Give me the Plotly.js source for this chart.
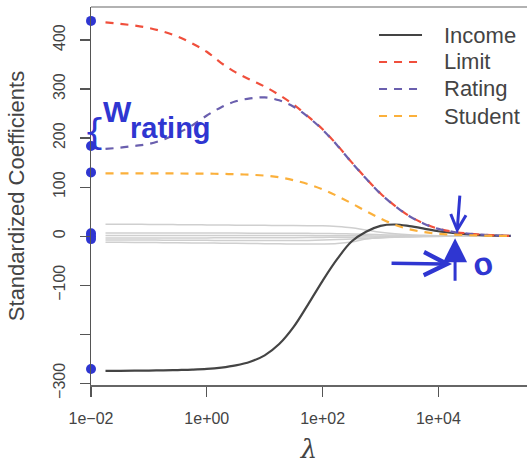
<!DOCTYPE html>
<html>
<head>
<meta charset="utf-8">
<script src="https://cdn.plot.ly/plotly-3.0.1.min.js"></script>
<style>
html,body{margin:0;padding:0;background:#fff;overflow:hidden;}
#chart{width:527px;height:464px;}
</style>
</head>
<body>
<div id="chart"></div>
<script>
// lambda grid (tuning parameter values)
var lambda = [0.0178, 0.0316, 0.0562, 0.1, 0.178, 0.316, 0.562, 1, 1.78, 3.16, 5.62, 10,
              17.8, 31.6, 56.2, 100, 178, 316, 562, 1000, 1780, 3160, 5620, 10000,
              17800, 31600, 56200, 100000, 178000];

// standardized ridge coefficients
var income  = [-274.5, -274.5, -274.3, -274, -273.6, -273, -272.2, -270.8, -268, -263.5, -256, -243,
               -220, -185, -139, -91, -47, -11, 9, 21, 23.8, 20.5, 15.5, 10,
               6.5, 4, 2.3, 1.2, 0.5];
var limit   = [436, 433, 429.5, 424.5, 417, 407, 393, 376, 353, 334, 319, 305,
               288, 268, 244, 218, 186, 151, 118, 87, 62, 41, 26, 15,
               9, 5.5, 3, 1.5, 0.5];
var rating  = [178, 180.5, 184, 188, 197, 210, 226, 246, 263, 275, 281, 283,
               277, 264, 243, 217, 185.5, 150.5, 117.5, 86.5, 61.5, 40.5, 25.5, 14.8,
               8.9, 5.4, 3, 1.5, 0.5];
var student = [128, 128, 128, 128, 127.9, 127.8, 127.7, 127.5, 127, 126.3, 125.3, 123.5,
               120, 114, 106, 95.5, 82, 67, 51, 36, 23, 14, 8.5, 5,
               3.2, 2, 1.2, 0.6, 0.3];
var other1  = [24.5, 24.5, 24.3, 24, 23.8, 23.5, 23.2, 23, 22.8, 22.5, 22.3, 22,
               21.8, 21.5, 21.2, 21, 19.5, 17, 12.5, 8, 5, 3, 1.8, 1,
               0.6, 0.4, 0.2, 0.1, 0];
var other2  = [6.5, 6.5, 6.5, 6.5, 6.5, 6.4, 6.4, 6.3, 6.2, 6.2, 6.1, 6,
               6, 5.9, 5.7, 5.5, 5, 4.5, 3.8, 3, 2.2, 1.5, 0.9, 0.5,
               0.3, 0.2, 0.1, 0.1, 0];
var other3  = [1.5, 1.5, 1.5, 1.5, 1.5, 1.5, 1.5, 1.5, 1.4, 1.4, 1.3, 1.3,
               1.2, 1.2, 1.1, 1, 0.9, 0.8, 0.6, 0.5, 0.3, 0.2, 0.1, 0.1,
               0, 0, 0, 0, 0];
var other4  = [-3.5, -3.5, -3.5, -3.5, -3.5, -3.5, -3.5, -3.5, -3.4, -3.4, -3.3, -3.3,
               -3.2, -3, -2.8, -2.5, -2.2, -2, -1.8, -1.5, -1.1, -0.7, -0.4, -0.2,
               -0.1, 0, 0, 0, 0];
var other5  = [-8, -8, -8, -8, -8.1, -8.3, -8.4, -8.5, -8.7, -8.8, -9, -9,
               -9, -9, -8.6, -8, -7, -6, -4.8, -3.5, -2.4, -1.5, -0.9, -0.5,
               -0.3, -0.2, -0.1, 0, 0];
var other6  = [-12.5, -12.6, -12.8, -13, -13.3, -13.5, -13.8, -14, -14.3, -14.6, -15, -15.3,
               -15.6, -16, -16.2, -16, -15, -12, -6, -2.8, -1.5, -1, -0.6, -0.3,
               -0.2, -0.1, 0, 0, 0];

// hand-drawn marks on the y axis (values at the left edge)
var dotLambda = [0.01, 0.01, 0.01, 0.01, 0.01, 0.01, 0.01];
var dotValues = [439, 184, 130, 6, 0, -6, -271];

// legend / tick text
var seriesNames = ["Income", "Limit", "Rating", "Student"];
var xTickVals = [0.01, 1, 100, 10000];
var xTickText = ["1e\u221202", "1e+00", "1e+02", "1e+04"];
var yTickVals = [-300, -200, -100, 0, 100, 200, 300, 400];
var yTickText = ["\u2212300", "", "\u2212100", "0", "100", "200", "300", "400"];

var colors = {income: "#444444", limit: "#f04f3c", rating: "#6a5fae", student: "#fbb03b", other: "#cfcfcf", ink: "#2f36d1"};
var dashPat = "8px,7px";

var traces = [];
[other1, other2, other3, other4, other5, other6].forEach(function (s) {
  traces.push({x: lambda, y: s, mode: "lines", line: {color: colors.other, width: 1.5, shape: "spline"}, hoverinfo: "skip", showlegend: false});
});
traces.push({x: lambda, y: income, mode: "lines", name: seriesNames[0], line: {color: colors.income, width: 2.2, shape: "spline"}, showlegend: false});
traces.push({x: lambda, y: limit, mode: "lines", name: seriesNames[1], line: {color: colors.limit, width: 2.2, dash: dashPat, shape: "spline"}, showlegend: false});
traces.push({x: lambda, y: rating, mode: "lines", name: seriesNames[2], line: {color: colors.rating, width: 2.2, dash: dashPat, shape: "spline"}, showlegend: false});
traces.push({x: lambda, y: student, mode: "lines", name: seriesNames[3], line: {color: colors.student, width: 2.2, dash: dashPat, shape: "spline"}, showlegend: false});
traces.push({x: dotLambda, y: dotValues, mode: "markers", marker: {color: colors.ink, size: 10}, cliponaxis: false, hoverinfo: "skip", showlegend: false});

// manual legend (paper coordinates)
var legColors = [colors.income, colors.limit, colors.rating, colors.student];
var legDash = ["solid", "dash", "dash", "dash"];
var legY = [0.9259, 0.8545, 0.7831, 0.7116];
var shapes = [
  {type: "line", xref: "paper", yref: "paper", x0: 0, x1: 1, y0: 1, y1: 1, line: {color: "#999999", width: 1.5}}
];
var annotations = [];
for (var i = 0; i < 4; i++) {
  shapes.push({type: "line", xref: "paper", yref: "paper", x0: 0.6606, x1: 0.7592, y0: legY[i], y1: legY[i],
               line: {color: legColors[i], width: 2.2, dash: legDash[i] === "solid" ? "solid" : dashPat}});
  annotations.push({xref: "paper", yref: "paper", x: 0.8044, y: legY[i], xanchor: "left", yanchor: "middle",
                    text: seriesNames[i], showarrow: false, font: {family: "Liberation Sans, Arial, sans-serif", size: 22, color: "#444444"}});
}

// handwritten notes
var handFamily = "Liberation Sans Narrow, Liberation Sans, Arial, sans-serif";
annotations.push({x: Math.log10(0.0117), y: 214, xref: "x", yref: "y", text: "{", showarrow: false,
                  font: {family: "DejaVu Sans, sans-serif", size: 36, color: colors.ink}});
annotations.push({x: Math.log10(0.029), y: 254, xref: "x", yref: "y", text: "W", showarrow: false,
                  font: {family: handFamily, size: 30, color: colors.ink, weight: "bold"}});
annotations.push({x: Math.log10(0.24), y: 221, xref: "x", yref: "y", text: "rating", showarrow: false,
                  font: {family: handFamily, size: 29, color: colors.ink, weight: "bold"}});
// down arrow
annotations.push({x: Math.log10(20900), y: 6, xref: "x", yref: "y", text: "", showarrow: true,
                  ax: 3, ay: -39, arrowcolor: colors.ink, arrowwidth: 3, arrowhead: 5, arrowsize: 1});
// up arrow
annotations.push({x: Math.log10(19400), y: -4, xref: "x", yref: "y", text: "", showarrow: true,
                  ax: 0, ay: 44, arrowcolor: colors.ink, arrowwidth: 3, arrowhead: 2, arrowsize: 1.6});
// right arrow
annotations.push({x: Math.log10(17200), y: -57, xref: "x", yref: "y", text: "", showarrow: true,
                  ax: -62, ay: -1, arrowcolor: colors.ink, arrowwidth: 3.5, arrowhead: 5, arrowsize: 1.3});
annotations.push({x: Math.log10(58900), y: -57, xref: "x", yref: "y", text: "o", showarrow: false, textangle: -12,
                  font: {family: "Liberation Sans, Arial, sans-serif", size: 32, color: colors.ink, weight: "bold"}});

var axisFont = {family: "Liberation Sans, Arial, sans-serif", size: 16, color: "#444444"};

var layout = {
  width: 527, height: 464,
  margin: {l: 91, r: 0, t: 7, b: 79},
  paper_bgcolor: "#ffffff", plot_bgcolor: "#ffffff",
  showlegend: false,
  font: {family: "Liberation Sans, Arial, sans-serif", color: "#444444"},
  xaxis: {
    type: "log", range: [-2, 5.53],
    tickmode: "array", tickvals: xTickVals, ticktext: xTickText,
    ticks: "outside", ticklen: 10, tickwidth: 1.2, tickcolor: "#555555",
    showline: true, linecolor: "#666666", linewidth: 1.5,
    showgrid: false, zeroline: false, tickfont: axisFont, ticklabelstandoff: 8,
    title: {text: "<i>\u03bb</i>", font: {family: "DejaVu Serif, Liberation Serif, serif", size: 26, color: "#444444"}, standoff: 28}
  },
  yaxis: {
    range: [-303.5, 467.3],
    tickmode: "array", tickvals: yTickVals, ticktext: yTickText, tickangle: -90,
    ticks: "outside", ticklen: 10, tickwidth: 1.2, tickcolor: "#555555",
    showline: true, linecolor: "#555555", linewidth: 1.5,
    showgrid: false, zeroline: false, tickfont: axisFont, ticklabelstandoff: 8,
    title: {text: "Standardized Coefficients", font: {family: "Liberation Sans, Arial, sans-serif", size: 22, color: "#444444"}, standoff: 20}
  },
  shapes: shapes,
  annotations: annotations
};

Plotly.newPlot("chart", traces, layout, {displayModeBar: false, staticPlot: true});
</script>
</body>
</html>
